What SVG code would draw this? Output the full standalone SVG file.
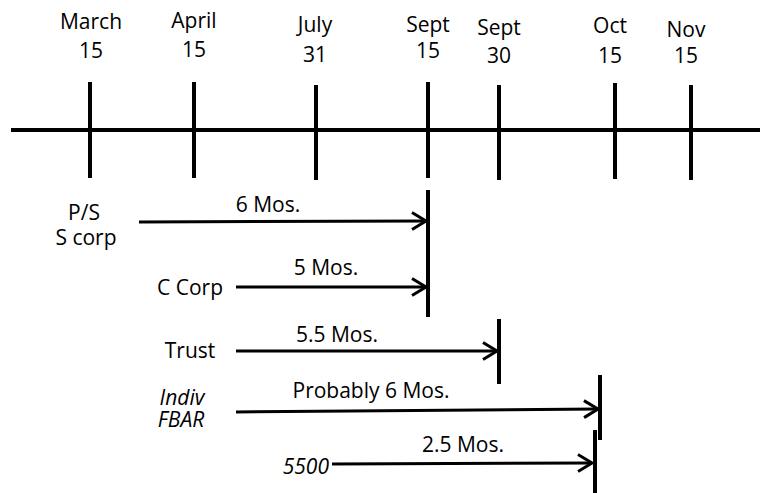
<svg xmlns="http://www.w3.org/2000/svg" width="760" height="493" viewBox="0 0 760 493">
<style>
text{font-family:"Open Sans","Liberation Sans",sans-serif;font-size:21px;fill:#000;text-anchor:middle}
.it{font-style:italic}
.axis,.tick,.dl{stroke:#000;stroke-width:4;fill:none}
.arr{stroke:#000;stroke-width:3;fill:none;marker-end:url(#ah)}
</style>
<defs>
<marker id="ah" markerUnits="userSpaceOnUse" markerWidth="20" markerHeight="22" viewBox="0 0 20 22" refX="16" refY="10" orient="auto">
<path d="M2,1.5 L16,10 L2,18.5" stroke="#000" stroke-width="3" fill="none"/>
</marker>
</defs>
<rect width="760" height="493" fill="#fff"/>
<g id="timeline">
<line class="axis" x1="11" y1="130" x2="760" y2="130"/>
<line class="tick" x1="90" y1="82" x2="90" y2="178"/>
<line class="tick" x1="194" y1="82" x2="194" y2="178"/>
<line class="tick" x1="316" y1="85" x2="316" y2="180"/>
<line class="tick" x1="428" y1="82" x2="428" y2="178"/>
<line class="tick" x1="499" y1="85" x2="499" y2="180"/>
<line class="tick" x1="615" y1="83" x2="615" y2="179"/>
<line class="tick" x1="691" y1="85" x2="691" y2="180"/>
</g>
<g id="date-mar15"><text x="91" y="29">March</text><text x="91" y="58">15</text></g>
<g id="date-apr15"><text x="194" y="28">April</text><text x="194" y="57">15</text></g>
<g id="date-jul31"><text x="315" y="32">July</text><text x="315" y="62">31</text></g>
<g id="date-sep15"><text x="428" y="32">Sept</text><text x="428" y="58">15</text></g>
<g id="date-sep30"><text x="499" y="35">Sept</text><text x="499" y="63">30</text></g>
<g id="date-oct15"><text x="610" y="33">Oct</text><text x="610" y="63">15</text></g>
<g id="date-nov15"><text x="686" y="37">Nov</text><text x="686" y="63">15</text></g>
<g id="deadlines">
<line class="dl" x1="428" y1="190" x2="428" y2="317"/>
<line class="dl" x1="499" y1="319" x2="499" y2="384"/>
<line class="dl" x1="600" y1="375" x2="600" y2="440"/>
<line class="dl" x1="595" y1="430" x2="595" y2="493"/>
</g>
<g id="ps-scorp"><text x="84" y="220">P/S</text><text x="86" y="245">S corp</text></g>
<g id="ccorp"><text x="190" y="295">C Corp</text></g>
<g id="trust"><text x="190" y="358">Trust</text></g>
<g id="indiv-fbar"><text class="it" x="182" y="405">Indiv</text><text class="it" x="181" y="427">FBAR</text></g>
<g id="f5500"><text class="it" x="329" y="474" style="text-anchor:end">5500</text></g>
<g id="connectors">
<line class="arr" x1="139" y1="222" x2="426" y2="221"/>
<line class="arr" x1="236" y1="287" x2="426" y2="287"/>
<line class="arr" x1="236" y1="351" x2="497" y2="351"/>
<line class="arr" x1="236" y1="412" x2="598" y2="409"/>
<line class="arr" x1="332" y1="464" x2="592" y2="463"/>
<text x="268" y="212">6 Mos.</text>
<text x="326" y="275">5 Mos.</text>
<text x="337" y="342">5.5 Mos.</text>
<text x="371" y="398">Probably 6 Mos.</text>
<text x="463" y="452">2.5 Mos.</text>
</g>
</svg>
